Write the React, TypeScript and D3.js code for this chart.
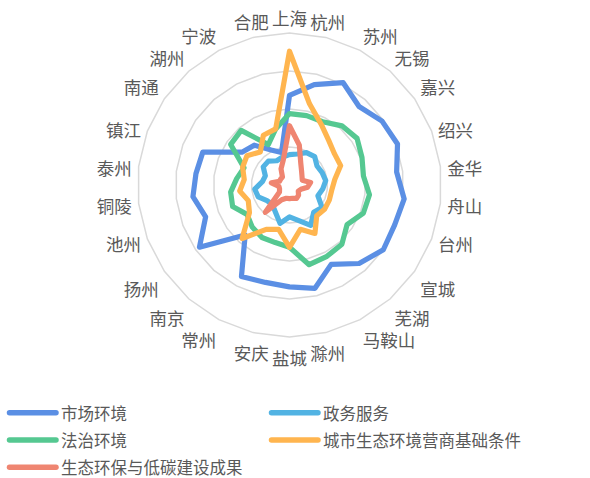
import React from 'react';
import * as d3 from 'd3';

const cities = ['上海','杭州','苏州','无锡','嘉兴','绍兴','金华','舟山','台州','宣城','芜湖','马鞍山','滁州','盐城','安庆','常州','南京','扬州','池州','铜陵','泰州','镇江','南通','湖州','宁波','合肥'];

const marketEnv = [59,68,76,69,74,76,71,76,74,75,69,59,70,67,66,68,44,72,59,64,62,61,38,35,26,22];
const govService = [20,21,24,25,22,23,24,22,20,26,24,30,24,21,26,20,17,18,22,23,18,17,21,21,18,19];
const legalEnv = [47,47,47,52,54,51,49,53,52,46,52,53,54,41,39,39,37,34,40,39,35,32,47,48,30,38];
const ecoBase = [88,55,45,39,36,36,30,28,28,28,27,36,30,41,30,33,47,32,29,33,30,33,34,29,37,38];
const ecoResult = [39,27,16,12,10,9,14,12,8,7,9,10,9,9,9,11,24,8,7,7,12,7,7,7,12,17];

const gridLevels = [25, 50, 75, 100];
const seriesNames = ['市场环境','政务服务','法治环境','城市生态环境营商基础条件','生态环保与低碳建设成果'];
const seriesValues = [marketEnv, govService, legalEnv, ecoBase, ecoResult];
const seriesColors = ['#5b8fe4','#52b3e3','#55c891','#ffb54f','#ef8571'];

const W = 590, H = 478;
const cx = 289.5, cy = 185, R = 152;
const FONT = "'Noto Sans CJK SC', 'Microsoft YaHei', sans-serif";

export default function App() {
  const n = cities.length;
  const r = d3.scaleLinear().domain([0, 100]).range([0, R]);
  const ang = (i: number) => (i * 2 * Math.PI) / n;

  const gridLine = (lvl: number) =>
    d3.lineRadial<string>()
      .angle((_, i) => ang(i))
      .radius(() => r(lvl))
      .curve(d3.curveLinearClosed)(cities) as string;

  const seriesLine = d3.lineRadial<number>()
    .angle((_, i) => ang(i))
    .radius((d) => r(d))
    .curve(d3.curveLinearClosed);

  const labelR = R + 8;
  const labels = cities.map((c, i) => {
    const a = ang(i);
    const s = Math.sin(a), co = Math.cos(a);
    const x = cx + labelR * s;
    const y = cy - labelR * co;
    let anchor: 'start' | 'middle' | 'end' = 'middle';
    let tx = x;
    if (Math.abs(s) >= 0.3) {
      anchor = s > 0 ? 'start' : 'end';
      tx = s > 0 ? x - 1 : x + 1;
    }
    let ty = y + 1.5;
    if (co > 0.4) ty = y - 8;
    else if (co < -0.4) ty = y + 12.5;
    return { c, tx, ty, anchor };
  });

  const legendCols = [8, 270];
  const legendRows = [412.7, 440, 467.3];

  return (
    <svg width={W} height={H} style={{ position: 'absolute', left: 0, top: 0, background: '#fff' }} fontFamily={FONT}>
      <g transform={`translate(${cx},${cy})`}>
        {gridLevels.map((lvl) => (
          <path key={lvl} d={gridLine(lvl)} fill="none" stroke="#d9d9d9" strokeWidth={1.5} />
        ))}
        {seriesValues.map((vals, k) => (
          <path key={k} d={seriesLine(vals) as string} fill="none" stroke={seriesColors[k]}
            strokeWidth={5.2} strokeLinejoin="round" strokeLinecap="round" />
        ))}
      </g>
      {labels.map((l) => (
        <text key={l.c} x={l.tx} y={l.ty} textAnchor={l.anchor} dominantBaseline="central"
          fontSize={17.5} fill="#595959">{l.c}</text>
      ))}
      {seriesNames.map((name, k) => {
        const col = legendCols[k % 2];
        const row = legendRows[Math.floor(k / 2)];
        return (
          <g key={name}>
            <line x1={col + 1.5} x2={col + 48} y1={row} y2={row} stroke={seriesColors[k]} strokeWidth={5.5} strokeLinecap="round" />
            <text x={col + 53} y={row} dominantBaseline="central" fontSize={16.5} fill="#595959">{name}</text>
          </g>
        );
      })}
    </svg>
  );
}
